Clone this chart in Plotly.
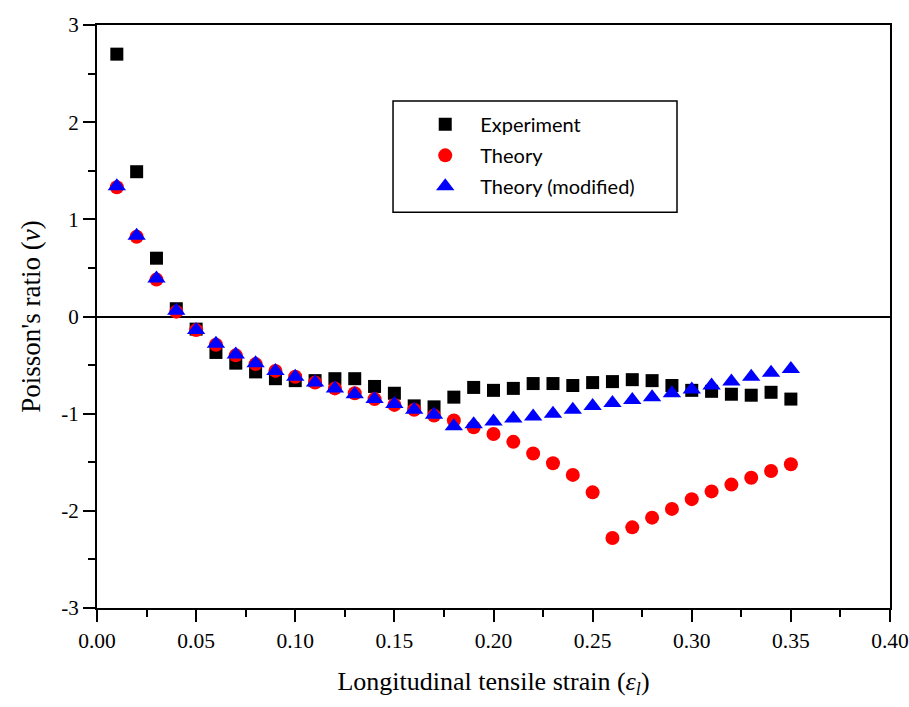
import plotly.graph_objects as go

strain = [0.01, 0.02, 0.03, 0.04, 0.05, 0.06, 0.07, 0.08, 0.09, 0.10,
          0.11, 0.12, 0.13, 0.14, 0.15, 0.16, 0.17, 0.18, 0.19, 0.20,
          0.21, 0.22, 0.23, 0.24, 0.25, 0.26, 0.27, 0.28, 0.29, 0.30,
          0.31, 0.32, 0.33, 0.34, 0.35]

experiment = [2.70, 1.49, 0.60, 0.08, -0.13, -0.37, -0.48, -0.57, -0.64, -0.66,
              -0.66, -0.64, -0.64, -0.72, -0.79, -0.92, -0.93, -0.83, -0.73, -0.76,
              -0.74, -0.69, -0.69, -0.71, -0.68, -0.67, -0.65, -0.66, -0.71, -0.76,
              -0.77, -0.80, -0.81, -0.78, -0.85]

theory = [1.33, 0.82, 0.38, 0.05, -0.14, -0.29, -0.40, -0.49, -0.56, -0.62,
          -0.68, -0.74, -0.79, -0.85, -0.91, -0.96, -1.02, -1.07, -1.14, -1.21,
          -1.29, -1.41, -1.51, -1.63, -1.81, -2.28, -2.17, -2.07, -1.98, -1.88,
          -1.80, -1.73, -1.66, -1.59, -1.52]

theory_modified = [1.34, 0.83, 0.39, 0.06, -0.14, -0.28, -0.39, -0.48, -0.56, -0.62,
                   -0.68, -0.74, -0.80, -0.85, -0.90, -0.96, -1.01, -1.13, -1.11, -1.08,
                   -1.05, -1.03, -1.00, -0.96, -0.92, -0.89, -0.86, -0.83, -0.79, -0.75,
                   -0.71, -0.67, -0.62, -0.58, -0.54]

x_tickvals = [0.00, 0.05, 0.10, 0.15, 0.20, 0.25, 0.30, 0.35, 0.40]
x_ticktext = ["0.00", "0.05", "0.10", "0.15", "0.20", "0.25", "0.30", "0.35", "0.40"]
y_tickvals = [-3, -2, -1, 0, 1, 2, 3]
y_ticktext = ["-3", "-2", "-1", "0", "1", "2", "3"]

serif = "Liberation Serif, Times New Roman, serif"
sans = "Lato, Open Sans, sans-serif"

fig = go.Figure()
fig.add_trace(go.Scatter(x=strain, y=experiment, mode="markers", name="Experiment",
                         legendgroup="a",
                         marker=dict(symbol="square", size=13, color="black")))
fig.add_trace(go.Scatter(x=strain, y=theory, mode="markers", name="Theory",
                         legendgroup="b",
                         marker=dict(symbol="circle", size=14, color="#ff0000")))
fig.add_trace(go.Scatter(x=strain, y=theory_modified, mode="markers", name="Theory (modified)",
                         legendgroup="c",
                         marker=dict(symbol="triangle-up", size=16, color="#0000ff")))

fig.update_layout(
    width=909, height=707,
    margin=dict(l=97, r=19, t=25, b=99, autoexpand=False),
    paper_bgcolor="white", plot_bgcolor="white",
    showlegend=True,
    legend=dict(x=0.395, y=0.863, xanchor="left", yanchor="top",
                bgcolor="rgba(0,0,0,0)", borderwidth=0,
                font=dict(family=sans, size=20, color="black"),
                tracegroupgap=2, traceorder="grouped",
                itemwidth=60),
    font=dict(family=serif, color="black"),
    shapes=[dict(type="rect", xref="paper", yref="paper",
                 x0=0.3733, x1=0.7314, y0=0.679, y1=0.8696,
                 line=dict(color="black", width=1.5), fillcolor="white",
                 layer="below")],
)

fig.update_xaxes(
    range=[0, 0.40], tickvals=x_tickvals, ticktext=x_ticktext,
    automargin=False, ticklabeloverflow="allow",
    showline=True, linecolor="black", linewidth=2, mirror=True,
    ticks="outside", ticklen=12, tickwidth=2, tickcolor="black",
    minor=dict(ticks="outside", ticklen=7, tickwidth=2, tickcolor="black", dtick=0.025),
    showgrid=False, zeroline=False,
    tickfont=dict(family=serif, size=21.5, color="black"),
    title=dict(text="Longitudinal tensile strain (<i>ε<sub>l</sub></i>)",
               font=dict(family=serif, size=26, color="black"), standoff=20),
)
fig.update_yaxes(
    range=[-3, 3], tickvals=y_tickvals, ticktext=y_ticktext,
    automargin=False, ticklabeloverflow="allow",
    showline=True, linecolor="black", linewidth=2, mirror=True,
    ticks="outside", ticklen=12, tickwidth=2, tickcolor="black",
    minor=dict(ticks="outside", ticklen=7, tickwidth=2, tickcolor="black", dtick=0.5),
    showgrid=False, zeroline=True, zerolinecolor="black", zerolinewidth=2,
    tickfont=dict(family=serif, size=21, color="black"),
    title=dict(text="Poisson's ratio (<i>ν</i>)",
               font=dict(family=serif, size=27, color="black"), standoff=13),
)

# remove the default 8px page margin so the 909x707 figure fills the window exactly
fig.write_html("out.html",
               config={"displayModeBar": False},
               post_script="document.body.style.margin='0';document.body.style.overflow='hidden';")
